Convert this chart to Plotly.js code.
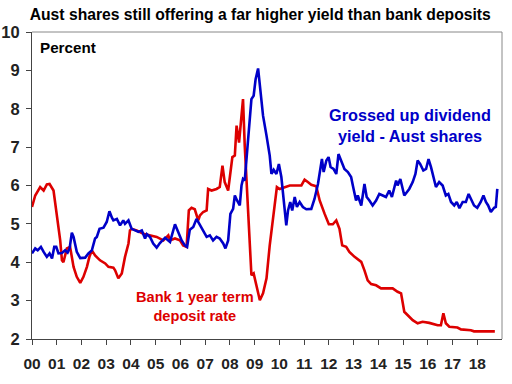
<!DOCTYPE html>
<html>
<head>
<meta charset="utf-8">
<script src="https://cdn.plot.ly/plotly-3.0.1.min.js"></script>
<style>html,body{margin:0;padding:0;background:#fff;}#chart{width:512px;height:384px;}</style>
</head>
<body>
<div id="chart"></div>
<script>
// Bank 1 year term deposit rate (decimal year, percent)
var depositYears = [2000.00,2000.13,2000.33,2000.47,2000.60,2000.71,2000.87,2001.01,2001.14,2001.21,2001.27,2001.41,2001.54,2001.68,2001.81,2001.95,2002.08,2002.22,2002.32,2002.42,2002.55,2002.75,2002.96,2003.09,2003.29,2003.36,2003.49,2003.63,2003.76,2003.90,2003.96,2004.03,2004.23,2004.50,2004.77,2005.04,2005.31,2005.51,2005.58,2005.78,2005.98,2006.11,2006.25,2006.34,2006.45,2006.58,2006.72,2006.79,2006.92,2007.06,2007.12,2007.26,2007.46,2007.59,2007.70,2007.79,2007.93,2008.00,2008.10,2008.20,2008.27,2008.37,2008.47,2008.53,2008.60,2008.69,2008.77,2008.87,2008.96,2009.07,2009.21,2009.34,2009.48,2009.61,2009.68,2009.75,2009.81,2009.90,2010.01,2010.42,2010.89,2011.02,2011.15,2011.29,2011.49,2011.63,2011.83,2012.00,2012.16,2012.30,2012.43,2012.54,2012.70,2012.83,2013.04,2013.31,2013.44,2013.57,2013.71,2013.91,2014.11,2014.58,2014.78,2014.92,2015.05,2015.19,2015.39,2015.59,2015.79,2016.06,2016.40,2016.53,2016.63,2016.73,2016.87,2017.20,2017.34,2017.74,2017.87,2018.71];
var depositRate = [5.44,5.74,5.96,5.87,6.03,6.04,5.87,5.26,4.57,4.05,4.00,4.36,4.40,3.88,3.62,3.46,3.62,3.88,4.14,4.31,4.18,4.05,3.97,3.88,3.86,3.79,3.58,3.71,4.14,4.49,4.83,4.87,4.83,4.74,4.70,4.66,4.57,4.70,4.57,4.62,4.57,4.44,4.40,5.35,5.42,5.38,5.09,5.22,5.31,5.35,5.91,5.87,5.91,5.96,6.52,6.09,5.87,6.26,6.74,6.78,7.56,7.12,7.82,8.25,7.04,5.91,4.87,3.66,3.71,3.40,3.01,3.19,3.58,4.44,4.79,5.10,5.44,5.96,5.91,6.00,6.00,6.15,6.09,6.02,5.98,5.61,5.26,4.99,4.99,5.09,4.87,4.44,4.40,4.27,4.14,4.01,3.79,3.53,3.43,3.40,3.32,3.32,3.23,3.19,2.71,2.62,2.49,2.41,2.45,2.42,2.36,2.36,2.67,2.41,2.32,2.30,2.25,2.23,2.20,2.20];

// Grossed up dividend yield - Aust shares
var yieldYears = [2000.00,2000.13,2000.23,2000.36,2000.47,2000.60,2000.71,2000.81,2000.90,2000.98,2001.07,2001.21,2001.34,2001.44,2001.52,2001.61,2001.68,2001.81,2001.95,2002.15,2002.28,2002.42,2002.55,2002.62,2002.73,2002.89,2003.02,2003.13,2003.23,2003.29,2003.43,2003.56,2003.69,2003.76,2003.90,2004.03,2004.17,2004.30,2004.44,2004.57,2004.64,2004.77,2004.90,2005.04,2005.17,2005.38,2005.58,2005.78,2005.91,2006.05,2006.18,2006.27,2006.38,2006.52,2006.65,2006.79,2006.92,2007.06,2007.19,2007.32,2007.46,2007.59,2007.73,2007.82,2007.93,2008.02,2008.13,2008.20,2008.29,2008.40,2008.47,2008.53,2008.60,2008.69,2008.77,2008.87,2008.96,2009.04,2009.14,2009.23,2009.34,2009.48,2009.61,2009.68,2009.77,2009.88,2009.98,2010.08,2010.15,2010.21,2010.28,2010.35,2010.44,2010.52,2010.62,2010.71,2010.82,2010.95,2011.09,2011.29,2011.42,2011.56,2011.65,2011.72,2011.79,2011.90,2011.99,2012.07,2012.19,2012.30,2012.39,2012.50,2012.63,2012.77,2012.90,2012.97,2013.10,2013.17,2013.31,2013.44,2013.53,2013.64,2013.77,2013.91,2014.04,2014.18,2014.31,2014.44,2014.55,2014.72,2014.78,2014.89,2015.05,2015.25,2015.39,2015.50,2015.59,2015.69,2015.82,2015.93,2016.03,2016.13,2016.23,2016.33,2016.46,2016.60,2016.73,2016.83,2016.94,2017.07,2017.17,2017.28,2017.41,2017.54,2017.65,2017.74,2017.87,2018.00,2018.14,2018.25,2018.35,2018.44,2018.55,2018.68,2018.75,2018.81];
var dividendYield = [4.23,4.36,4.31,4.40,4.27,4.14,4.23,4.10,4.40,4.40,4.23,4.24,4.31,4.25,4.36,4.77,4.66,4.27,4.11,4.12,4.23,4.31,4.62,4.66,4.87,4.90,5.05,5.33,5.16,5.09,5.13,4.96,5.09,5.00,5.09,4.87,4.83,4.79,4.83,4.62,4.73,4.66,4.49,4.38,4.50,4.64,4.53,4.99,4.79,4.57,4.44,4.40,4.85,4.92,5.13,4.96,4.79,4.66,4.70,4.57,4.66,4.62,4.49,4.36,4.57,5.26,5.39,5.74,5.61,5.48,6.00,6.17,6.13,6.86,7.64,8.25,8.34,8.77,9.05,8.51,7.82,7.30,6.78,6.30,6.41,6.30,6.56,6.22,5.70,5.35,4.96,5.35,5.57,5.35,5.70,5.44,5.57,5.44,5.38,5.39,5.65,6.04,6.48,6.69,6.35,6.65,6.74,6.48,6.43,6.30,6.82,6.65,6.43,6.35,6.22,6.00,5.61,5.74,5.48,6.04,5.70,5.61,5.48,5.61,5.78,5.74,5.70,5.87,5.70,6.13,6.00,6.17,5.74,5.91,6.09,6.30,6.65,6.56,6.39,6.43,6.69,6.48,6.22,5.96,6.09,6.00,5.74,5.78,5.57,5.48,5.57,5.41,5.57,5.57,5.78,5.65,5.48,5.42,5.57,5.74,5.57,5.48,5.31,5.42,5.44,5.91];

var xTickVals = [2000,2001,2002,2003,2004,2005,2006,2007,2008,2009,2010,2011,2012,2013,2014,2015,2016,2017,2018];
var xTickText = ['00','01','02','03','04','05','06','07','08','09','10','11','12','13','14','15','16','17','18'];
var yTickVals = [2,3,4,5,6,7,8,9,10];

var FONT = '"Liberation Sans Narrow", "Arial Narrow", "Liberation Sans", Arial, sans-serif';
var RED = '#dd0000';
var BLUE = '#0000c8';

var traces = [
  {x: depositYears, y: depositRate, type: 'scatter', mode: 'lines', name: 'Bank 1 year term deposit rate',
   line: {color: RED, width: 2.6}},
  {x: yieldYears, y: dividendYield, type: 'scatter', mode: 'lines', name: 'Grossed up dividend yield - Aust shares',
   line: {color: BLUE, width: 2.6}}
];

var layout = {
  width: 512, height: 384,
  margin: {l: 32, r: 10, t: 32, b: 45},
  paper_bgcolor: '#ffffff', plot_bgcolor: '#ffffff',
  showlegend: false,
  font: {family: FONT, color: '#000'},
  title: {text: '<b>Aust shares still offering a far higher yield than bank deposits</b>',
          font: {family: FONT, size: 15.7, color: '#000'},
          x: 0.058, xanchor: 'left', xref: 'container', y: 0.962, yanchor: 'middle', yref: 'container'},
  xaxis: {range: [2000, 2019], tickvals: xTickVals, ticktext: xTickText, ticks: 'outside', ticklen: 5,
          tickcolor: '#444', showline: true, linecolor: '#444', linewidth: 1, showgrid: false, zeroline: false,
          ticklabelstandoff: 5,
          tickfont: {family: FONT, size: 15.5, color: '#222', weight: 'bold'}, fixedrange: true},
  yaxis: {range: [2, 10], tickvals: yTickVals, ticks: 'outside', ticklen: 5, tickcolor: '#444',
          showline: true, linecolor: '#444', linewidth: 1, showgrid: false, zeroline: false,
          ticklabelstandoff: 3,
          tickfont: {family: FONT, size: 16.5, color: '#222', weight: 'bold'}, fixedrange: true},
  shapes: [
    {type: 'line', xref: 'paper', yref: 'paper', x0: 0, x1: 1, y0: 1, y1: 1, line: {color: '#888', width: 1}},
    {type: 'line', xref: 'paper', yref: 'paper', x0: 1, x1: 1, y0: 0, y1: 1, line: {color: '#888', width: 1}}
  ],
  annotations: [
    {xref: 'paper', yref: 'paper', x: 0.012, y: 0.985, xanchor: 'left', yanchor: 'top', showarrow: false,
     text: '<b>Percent</b>', font: {family: FONT, size: 15.2, color: '#000'}},
    {xref: 'x', yref: 'y', x: 2015.3, y: 7.56, xanchor: 'center', yanchor: 'middle', showarrow: false,
     text: '<b>Grossed up dividend<br>yield - Aust shares</b>', font: {family: FONT, size: 16.3, color: BLUE}},
    {xref: 'x', yref: 'y', x: 2006.6, y: 2.84, xanchor: 'center', yanchor: 'middle', showarrow: false,
     text: '<b>Bank 1 year term<br>deposit rate</b>', font: {family: FONT, size: 14.6, color: RED}}
  ]
};

Plotly.newPlot('chart', traces, layout, {displayModeBar: false, staticPlot: true});
</script>
</body>
</html>
